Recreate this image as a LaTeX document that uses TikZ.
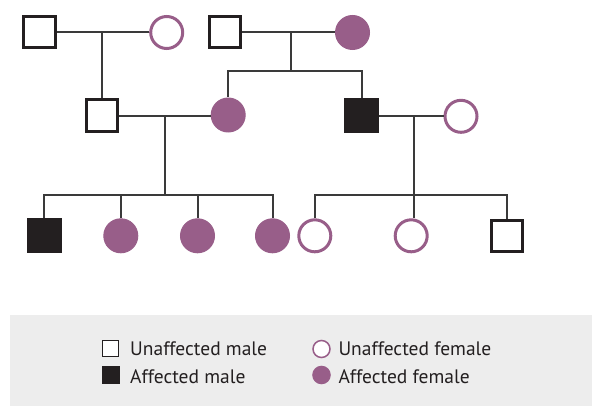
\documentclass[tikz,border=0pt]{standalone}
\usepackage{fontspec}
\setmainfont{PT Sans}
\definecolor{purp}{HTML}{985E89}
\definecolor{blk}{HTML}{231F20}
\definecolor{lgray}{HTML}{EDEDED}
\definecolor{lnk}{HTML}{3A3A3A}
\tikzset{
  male/.style={draw=blk,line width=3pt,fill=white,minimum size=31.5pt,inner sep=0pt,rectangle},
  amale/.style={draw=blk,line width=1pt,fill=blk,minimum size=34pt,inner sep=0pt,rectangle},
  female/.style={draw=purp,line width=3pt,fill=white,minimum size=32pt,inner sep=0pt,circle},
  afemale/.style={draw=purp,line width=1pt,fill=purp,minimum size=34pt,inner sep=0pt,circle},
  link/.style={draw=lnk,line width=2pt},
  lmale/.style={draw=blk,line width=1.5pt,fill=white,minimum size=16pt,inner sep=0pt,rectangle},
  lamale/.style={draw=blk,line width=1pt,fill=blk,minimum size=17pt,inner sep=0pt,rectangle},
  lfemale/.style={draw=purp,line width=1.5pt,fill=white,minimum size=17pt,inner sep=0pt,circle},
  lafemale/.style={draw=purp,line width=1pt,fill=purp,minimum size=17.5pt,inner sep=0pt,circle},
  ltext/.style={anchor=base west,inner sep=0pt,text=blk,font=\fontsize{19.5pt}{22pt}\selectfont}
}
\begin{document}
\begin{tikzpicture}[x=1pt,y=-1pt]
\useasboundingbox (0,0) rectangle (592,406);
% legend background
\fill[lgray] (10,315) rectangle (592,406);

% generation 1
\node[male] (g1a) at (39.7,32) {};
\node[female] (g1b) at (166.7,32.5) {};
\node[male] (g1c) at (225,32) {};
\node[afemale] (g1d) at (352.5,32.5) {};
% generation 2
\node[male] (g2a) at (102,115.7) {};
\node[afemale] (g2b) at (228.2,115) {};
\node[amale] (g2c) at (361.5,115.7) {};
\node[female] (g2d) at (461,116.3) {};
% generation 3
\node[amale] (g3a) at (44.2,235.8) {};
\node[afemale] (g3b) at (120.8,235.8) {};
\node[afemale] (g3c) at (197.5,235.8) {};
\node[afemale] (g3d) at (272.5,235.8) {};
\node[female] (g3e) at (314.8,235.8) {};
\node[female] (g3f) at (411.2,235.8) {};
\node[male] (g3g) at (507,235.8) {};

% coordinates
\coordinate (m1) at (101.7,32);
\coordinate (m2) at (291,32);
\coordinate (b2) at (291,70.7);
\coordinate (m3) at (165,115.7);
\coordinate (b3) at (165,195);
\coordinate (m4) at (414.3,115.7);
\coordinate (b4) at (414.3,195);

% marriages
\draw[link] (g1a.east |- m1) -- (g1b.west |- m1);
\draw[link] (g1c.east |- m2) -- (g1d.west |- m2);
\draw[link] (g2a.east |- m3) -- (g2b.west |- m3);
\draw[link] (g2c.east |- m4) -- (g2d.west |- m4);

% descent
\draw[link] (m1) -- (m1 |- g2a.north);
\draw[link] (m2) -- (b2);
\draw[link] (g2b.north) -- (g2b.north |- b2) -- (g2c.north |- b2) -- (g2c.north);
\draw[link] (m3) -- (b3);
\draw[link] (m4) -- (b4);
\draw[link] (g3a.north) -- (g3a.north |- b3) -- (g3d.north |- b3) -- (g3d.north);
\draw[link] (g3b.north |- b3) -- (g3b.north);
\draw[link] (g3c.north |- b3) -- (g3c.north);
\draw[link] (g3e.north) -- (g3e.north |- b4) -- (g3g.north |- b4) -- (g3g.north);
\draw[link] (b4) -- (b4 |- g3f.north);

% legend
\node[lmale] (lk1) at (110.5,348.5) {};
\node[lamale] (lk2) at (110.5,375.3) {};
\node[lfemale] (lk3) at (321.5,349) {};
\node[lafemale] (lk4) at (321.5,375) {};
\node[ltext] (lt1) at (130,355) {Unaffected male};
\node[ltext] (lt2) at (130,383) {Affected male};
\node[ltext] (lt3) at (338.3,355) {Unaffected female};
\node[ltext] (lt4) at (338.3,383) {Affected female};
\end{tikzpicture}
\end{document}
